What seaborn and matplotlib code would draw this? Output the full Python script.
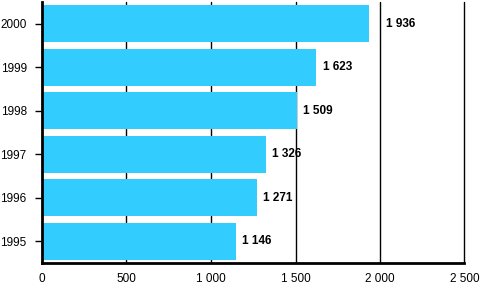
import matplotlib
matplotlib.use("Agg")
import matplotlib.pyplot as plt
import seaborn as sns
import pandas as pd

years = ["2000", "1999", "1998", "1997", "1996", "1995"]
values = [1936, 1623, 1509, 1326, 1271, 1146]
xticks = [0, 500, 1000, 1500, 2000, 2500]
xtick_labels = ["0", "500", "1 000", "1 500", "2 000", "2 500"]

sns.set_theme(style="white")
plt.rcParams["font.family"] = ["Liberation Sans", "DejaVu Sans"]

df = pd.DataFrame({"year": years, "value": values})

fig = plt.figure(figsize=(4.81, 2.86), dpi=100)
ax = fig.add_axes([42/481, 1-263/286, (464.5-42)/481, 261/286])

sns.barplot(data=df, x="value", y="year", order=years, orient="h",
            color="#33CCFF", saturation=1, width=0.85, ax=ax)
for p in ax.patches:
    p.set_edgecolor("none")
    p.set_linewidth(0)
    p.set_zorder(3)

ax.set_xlim(0, 2500)
ax.set_ylim(5.5, -0.5)
ax.set_xticks(xticks)
ax.set_xticklabels(xtick_labels)
ax.grid(False)
for t in xticks[1:]:
    ax.axvline(t, color="black", linewidth=1, zorder=1, clip_on=False)
ax.set_xlabel("")
ax.set_ylabel("")

ax.spines["top"].set_visible(False)
ax.spines["right"].set_visible(False)
ax.spines["left"].set_color("black")
ax.spines["left"].set_linewidth(2)
ax.spines["left"].set_zorder(4)
ax.spines["bottom"].set_color("black")
ax.spines["bottom"].set_linewidth(2)
ax.spines["bottom"].set_zorder(4)

ax.tick_params(axis="y", left=True, length=5, width=1, color="black",
               pad=6, labelsize=8.5, labelcolor="black")
ax.tick_params(axis="x", bottom=False, length=0, pad=7, labelsize=8.5,
               labelcolor="black")

for i, v in enumerate(values):
    off = 12 if 1850 < v < 2000 else 4.5
    lab = f"{v:,}".replace(",", " ")
    ax.annotate(lab, xy=(v, i), xytext=(off, 0), textcoords="offset points",
                ha="left", va="center", fontsize=8.5, fontweight="bold",
                color="black", zorder=5)

fig.savefig("out.png", dpi=100)
